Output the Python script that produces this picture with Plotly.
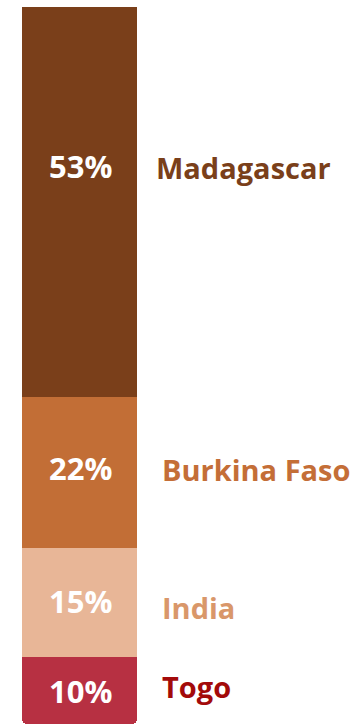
import plotly.graph_objects as go

countries = ["Madagascar", "Burkina Faso", "India", "Togo"]
shares = [54.4, 21.1, 15.2, 9.3]          # segment lengths as drawn
pct_labels = ["53%", "22%", "15%", "10%"]  # labels as printed

bar_colors = ["#7A3F1A", "#C26E36", "#E8B697", "#B73042"]
label_colors = ["#7A3F1A", "#C46E37", "#D9976A", "#A30A0A"]

# plotly convention: positive = up
label_yshift = [35, 3, -5, 4]
pct_yshift = [36, 5, 2, 0]
label_xshift = [17, 23, 23, 23]

fig = go.Figure()
for c, v, col in zip(countries, shares, bar_colors):
    fig.add_trace(go.Bar(x=[0], y=[v], name=c, marker=dict(color=col, line=dict(width=0)),
                         width=1, hoverinfo="skip"))

cum = 0
for i, v in enumerate(shares):
    mid = cum + v / 2
    cum += v
    fig.add_annotation(x=0, y=mid, text=f"<b>{pct_labels[i]}</b>", showarrow=False,
                       font=dict(family="Open Sans", size=31, color="white"),
                       xanchor="center", yanchor="middle", xshift=1, yshift=pct_yshift[i])
    fig.add_annotation(x=0.5, y=mid, text=f"<b>{countries[i]}</b>", showarrow=False,
                       font=dict(family="Open Sans", size=29, color=label_colors[i]),
                       xanchor="left", yanchor="middle", xshift=label_xshift[i],
                       yshift=label_yshift[i])

x_min = -0.5 - 22 / 115
x_max = x_min + 360 / 115
fig.update_layout(
    barmode="stack",
    barcornerradius=5,
    width=360, height=726,
    margin=dict(l=0, r=0, t=7, b=2),
    paper_bgcolor="white", plot_bgcolor="white",
    showlegend=False,
    xaxis=dict(range=[x_min, x_max], visible=False, fixedrange=True),
    yaxis=dict(range=[100, 0], visible=False, fixedrange=True),
)
fig.write_html("out.html", config={"displayModeBar": False},
               post_script="document.body.style.margin='0';document.body.style.overflow='hidden';")
